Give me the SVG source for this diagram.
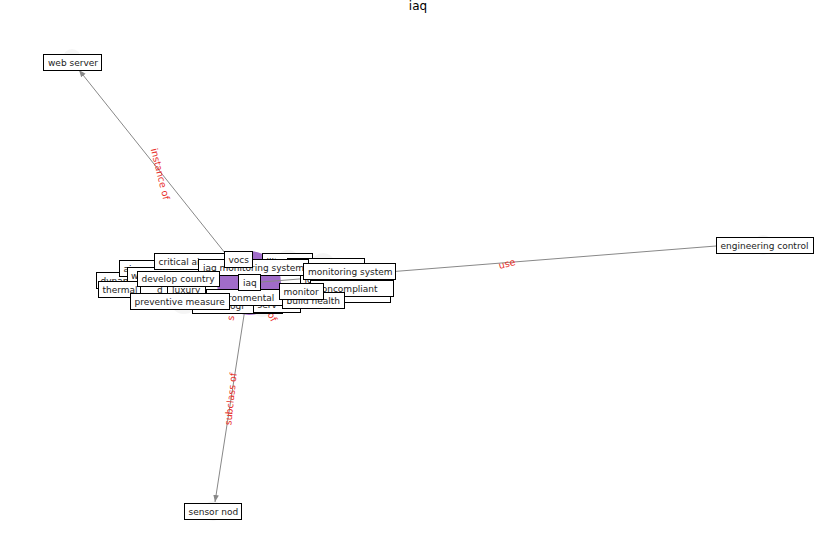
<svg xmlns="http://www.w3.org/2000/svg" width="837" height="559" viewBox="0 0 837 559">
<style>
.n rect{fill:#fff;stroke:#000;stroke-width:1}
.n text{font-family:"DejaVu Sans","Liberation Sans",sans-serif;font-size:9px;fill:#222}
.c{fill:#e6e6e6;opacity:0.4}
.e{stroke:#888;stroke-width:1;fill:none}
.l{font-family:"DejaVu Sans","Liberation Sans",sans-serif;font-size:9.5px;fill:#e8302a;text-anchor:middle}
</style>
<defs>
<marker id="a" viewBox="0 0 10 10" refX="10" refY="5" markerWidth="7" markerHeight="7" orient="auto-start-reverse" markerUnits="userSpaceOnUse"><path d="M0,1 L10,5 L0,9 z" fill="#888"/></marker>
</defs>
<rect width="837" height="559" fill="#fff"/>
<text x="418" y="10" style="font-family:'DejaVu Sans','Liberation Sans',sans-serif;font-size:12px;fill:#000" text-anchor="middle">iaq</text>
<g id="circles">
<circle class="c" cx="72" cy="58" r="9"/>
<circle class="c" cx="763" cy="245" r="10"/>
<circle class="c" cx="213" cy="511" r="10"/>
<circle class="c" cx="288" cy="262" r="12"/>
<circle class="c" cx="323" cy="265" r="12"/>
<circle class="c" cx="184" cy="300" r="14"/>
<circle class="c" cx="312" cy="296" r="12"/>
<circle class="c" cx="262" cy="305" r="12"/>
<circle cx="249" cy="283" r="32" fill="#a06cc8"/>
</g>
<g id="connectors">
<line class="e" x1="249" y1="283" x2="79" y2="70" marker-end="url(#a)"/>
<line class="e" x1="249" y1="283" x2="215" y2="502" marker-end="url(#a)"/>
<line class="e" x1="249" y1="283" x2="716" y2="246"/>
<text class="l" transform="translate(160,174) rotate(76)" dy="3">instance of</text>
<text class="l" transform="translate(231,399) rotate(-84)" dy="3">subclass of</text>
<text class="l" transform="translate(507,264) rotate(-14)" dy="3">use</text>
<text class="l" transform="translate(231,318) rotate(-80)" dy="3">s</text>
<text class="l" transform="translate(272,317) rotate(62)" dy="3">of</text>
</g>
<g id="node-web-server" class="n"><rect x="43.5" y="54.5" width="58" height="16"/><text x="48" y="66">web server</text></g>
<g id="node-engineering-control" class="n"><rect x="716.5" y="237.5" width="97" height="16"/><text x="720.5" y="249">engineering control</text></g>
<g id="node-sensor-nod" class="n"><rect x="184.5" y="503.5" width="57" height="16"/><text x="188.5" y="515">sensor nod</text></g>
<g id="node-dynamic" class="n"><rect x="96.5" y="272.5" width="74" height="16"/><text x="100.5" y="284">dynamic</text></g>
<g id="node-ai" class="n"><rect x="119.5" y="260.5" width="80" height="16"/><text x="123.5" y="272">ai</text></g>
<g id="node-w" class="n"><rect x="127.5" y="267.5" width="72" height="16"/><text x="131" y="279">w</text></g>
<g id="node-critical" class="n"><rect x="154.5" y="253.5" width="86" height="16"/><text x="158.5" y="265">critical air</text></g>
<g id="node-architect" class="n"><rect x="262.5" y="253.5" width="50" height="16"/><text x="266.5" y="265">ility</text></g>
<g id="node-architect2" class="n"><rect x="287.5" y="258.5" width="77" height="16"/><text x="315" y="270">architect</text></g>
<g id="node-iot" class="n"><rect x="300.5" y="271.5" width="92" height="16"/><text x="304.5" y="283">iot</text></g>
<g id="node-stack" class="n"><rect x="300.5" y="286.5" width="90" height="16"/></g>
<g id="node-technology" class="n"><rect x="192.5" y="297.5" width="90" height="16"/><text x="196.5" y="309">technologi</text></g>
<g id="node-serv" class="n"><rect x="253.5" y="296.5" width="47" height="16"/><text x="257.5" y="308">serv</text></g>
<g id="node-iaq-monitoring-system" class="n"><rect x="198.5" y="259.5" width="110" height="16"/><text x="203" y="271">iaq monitoring system</text></g>
<g id="node-monitoring-system" class="n"><rect x="303.5" y="263.5" width="92" height="16"/><text x="308" y="275">monitoring system</text></g>
<g id="node-vocs" class="n"><rect x="224.5" y="251.5" width="28" height="16"/><text x="228.5" y="263">vocs</text></g>
<g id="node-thermal" class="n"><rect x="98.5" y="281.5" width="72" height="16"/><text x="102.5" y="293">thermal</text></g>
<g id="node-standard" class="n"><rect x="140.5" y="285.5" width="28" height="16"/><text x="157" y="293">d</text></g>
<g id="node-luxury" class="n"><rect x="167.5" y="284.5" width="38" height="16"/><text x="172" y="293">luxury</text></g>
<g id="node-develop-country" class="n"><rect x="137.5" y="271.5" width="82" height="15"/><text x="141.5" y="282">develop country</text></g>
<g id="node-environmental" class="n"><rect x="206.5" y="289.5" width="84" height="16"/><text x="209" y="301">environmental</text></g>
<g id="node-preventive-measure" class="n"><rect x="130.5" y="293.5" width="99" height="16"/><text x="134.5" y="305">preventive measure</text></g>
<g id="node-iaq" class="n"><rect x="238.5" y="274.5" width="22" height="16"/><text x="243" y="286">iaq</text></g>
<g id="node-noncompliant" class="n"><rect x="310.5" y="280.5" width="83" height="16"/><text x="316" y="292">noncompliant</text></g>
<g id="node-build-health" class="n"><rect x="282.5" y="292.5" width="62" height="16"/><text x="286.5" y="304">build health</text></g>
<g id="node-monitor" class="n"><rect x="279.5" y="283.5" width="44" height="16"/><text x="283.5" y="295">monitor</text></g>
</svg>
